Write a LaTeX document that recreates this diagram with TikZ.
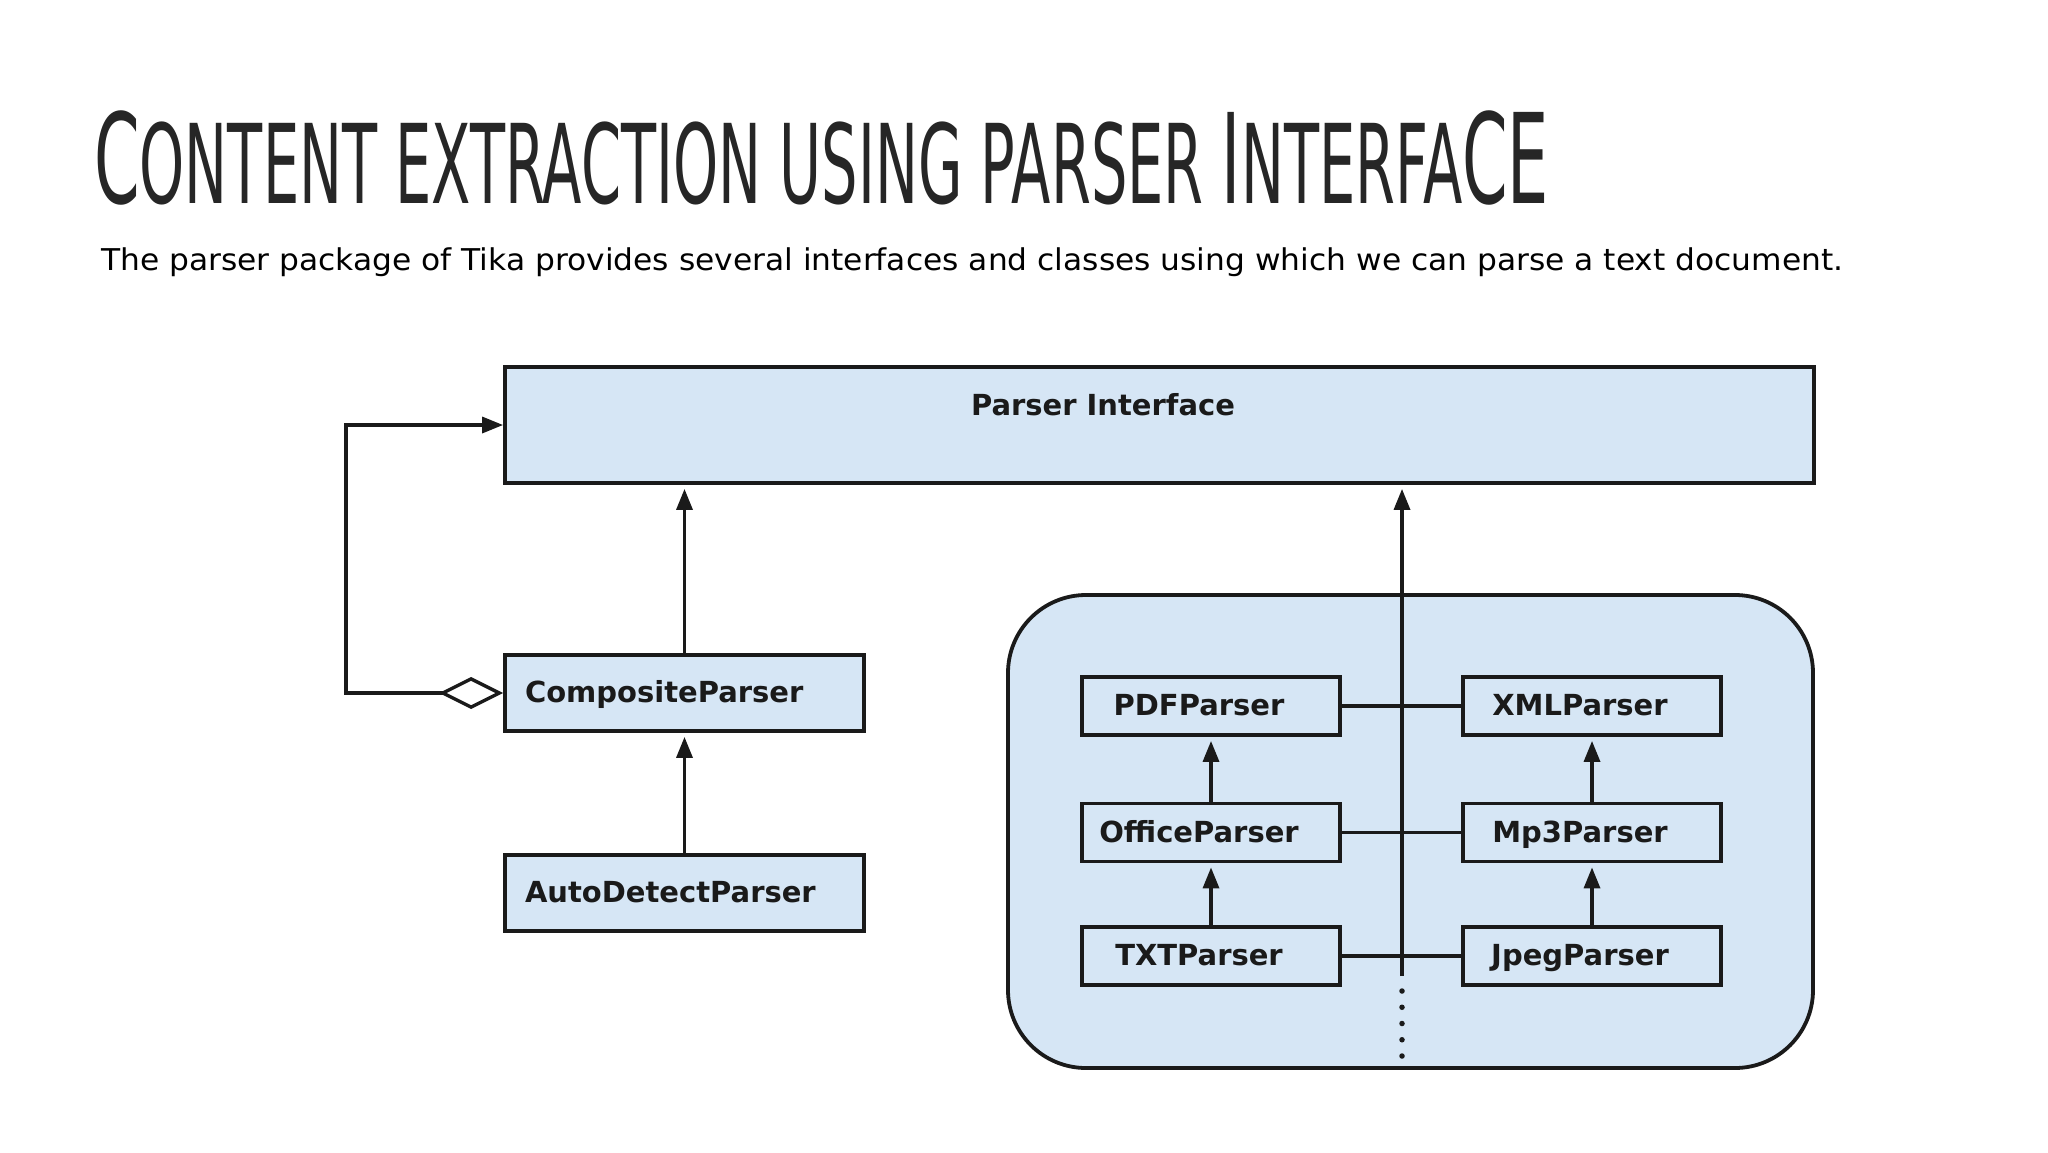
\documentclass[tikz,border=0pt]{standalone}
\usepackage{fontspec}
\setmainfont{DejaVu Sans}
\usetikzlibrary{arrows.meta,shapes.geometric}
\definecolor{boxfill}{RGB}{214,230,245}
\definecolor{ink}{RGB}{26,26,26}
\definecolor{titleink}{RGB}{38,38,38}
\newcommand\tcapL[1]{{\fontsize{125}{130}\selectfont #1}}
\newcommand\tcapS[1]{{\fontsize{110}{130}\selectfont #1}}
\begin{document}
\begin{tikzpicture}[x=1pt,y=-1pt,
  box/.style={draw=ink, line width=3.8pt, fill=boxfill, inner sep=0pt,
    font=\bfseries\fontsize{29}{34}\selectfont, text=ink,
    text height=24pt, text depth=5pt},
  inbox/.style={box, minimum width=258pt, minimum height=58pt,
    execute at begin node={\hspace*{-24pt}}},
  leftbox/.style={box, minimum width=359pt, minimum height=76pt,
    text width=319pt, align=left},
  conn/.style={draw=ink, line width=3.4pt},
  tipx/.style={-{Triangle[length=21pt,width=16pt]}, shorten >=4pt},
]
\useasboundingbox[fill=white] (0,0) rectangle (2048,1152);

% title and subtitle
\node[anchor=base west, inner sep=0pt, text=titleink] (title) at (94,203)
  {\resizebox{1455pt}{\height}{\tcapL{C}\tcapS{ONTENT EXTRACTION USING PARSER }\tcapL{I}\tcapS{NTERFA}\tcapL{CE}}};
\node[anchor=base west, inner sep=0pt, text=black] (sub) at (101,270)
  {\resizebox{1742pt}{\height}{\fontsize{30}{36}\selectfont The parser package of Tika provides several interfaces and classes using which we can parse a text document.}};

% Parser interface
\node[box, minimum width=1309pt, minimum height=116pt] (pi) at (1159.5,425) {};
\node[anchor=base, inner sep=0pt, font=\bfseries\fontsize{29}{34}\selectfont, text=ink] (pilabel) at (1103,415) {Parser Interface};

% left classes
\node[leftbox] (comp) at (684.5,693) {CompositeParser};
\node[leftbox] (auto) at (684.5,893) {AutoDetectParser};

% group container
\node[draw=ink, line width=3.8pt, fill=boxfill, rounded corners=78pt,
  minimum width=805pt, minimum height=473pt, inner sep=0pt] (group) at (1410.5,831.5) {};

% long vertical line to the interface
\coordinate (vb) at (1402,976);
\coordinate (dots1) at (1402,991);
\coordinate (dots2) at (1402,1056);
\draw[conn, tipx] (vb) -- (vb |- pi.south);
\draw[ink, line width=5.5pt, line cap=round, dash pattern=on 0pt off 16.25pt] (dots1) -- (dots2);

% inner classes
\node[inbox] (pdf) at (1211,706) {PDFParser};
\node[inbox] (office) at (1211,832.5) {OfficeParser};
\node[inbox] (txt) at (1211,956) {TXTParser};
\node[inbox] (xml) at (1592,706) {XMLParser};
\node[inbox] (mp3) at (1592,832.5) {Mp3Parser};
\node[inbox] (jpeg) at (1592,956) {JpegParser};

% row links
\draw[conn] (pdf.east) -- (xml.west);
\draw[conn] (office.east) -- (mp3.west);
\draw[conn] (txt.east) -- (jpeg.west);

% inheritance arrows
\draw[conn, tipx] (office.north) -- (pdf.south);
\draw[conn, tipx] (txt.north) -- (office.south);
\draw[conn, tipx] (mp3.north) -- (xml.south);
\draw[conn, tipx] (jpeg.north) -- (mp3.south);
\draw[conn, tipx] (comp.north) -- (comp.north |- pi.south);
\draw[conn, tipx] (auto.north) -- (comp.south);

% aggregation loop
\coordinate (lp) at (346,0);
\draw[conn, line join=miter, {Diamond[open,length=64pt,width=32pt]}-{Triangle[length=21pt,width=16pt]}]
  (comp.west) -- (comp.west -| lp) |- (pi.west);
\end{tikzpicture}
\end{document}
